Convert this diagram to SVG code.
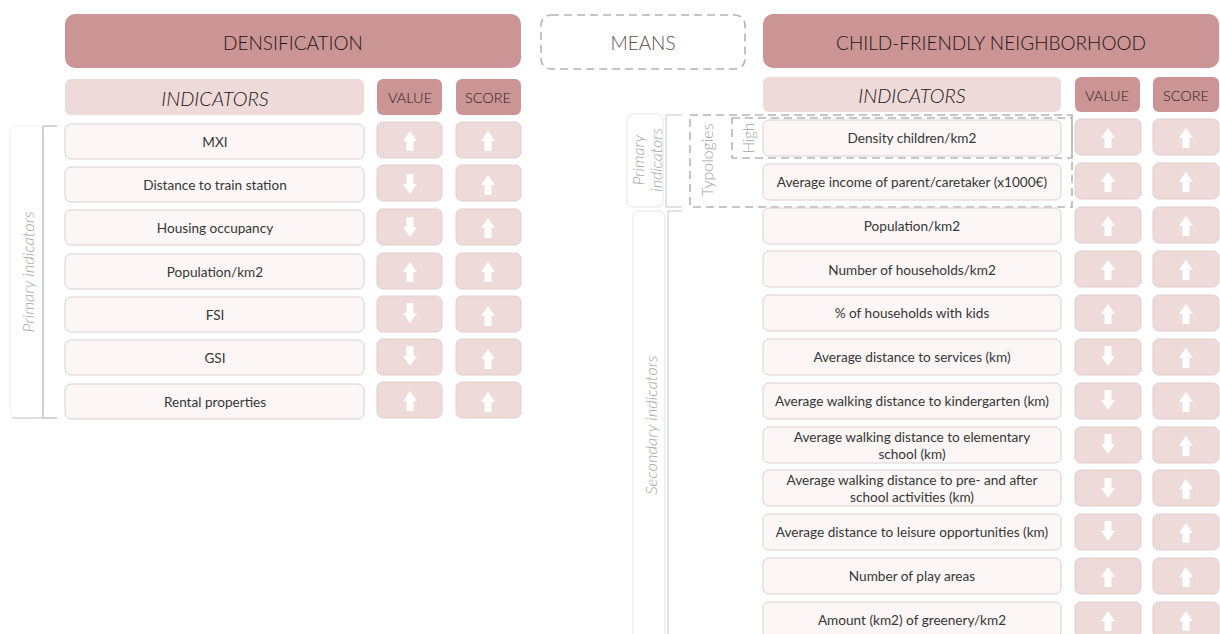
<svg xmlns="http://www.w3.org/2000/svg" xmlns:xlink="http://www.w3.org/1999/xlink" width="1220" height="634" viewBox="0 0 1220 634">
  <style>
    .hdr { fill: #cb9595; }
    .sub { fill: #efdada; }
    .row { fill: #fcf6f6; stroke: #d8d0d0; stroke-width: 1; }
    .cell { fill: #efdada; stroke: #e2cdcd; stroke-width: 1; }
    .arrow { fill: #ffffff; }
    .txt { font-family: Lato, "Open Sans", sans-serif; font-weight: 300; fill: #333333; text-anchor: middle; dominant-baseline: central; }
    .h1 { font-size: 19px; fill: #1e1616; }
    .h2 { font-size: 20px; font-style: italic; fill: #1e1616; }
    .h3 { font-size: 14.5px; fill: #2a2020; }
    .r { font-size: 13.6px; font-weight: 400; fill: #363636; }
    .side { font-family: Lato, "Open Sans", sans-serif; font-weight: 300; fill: #a3a3a3; text-anchor: middle; dominant-baseline: central; }
    .dash { fill: none; stroke: #b5b5b5; stroke-width: 1.6; stroke-dasharray: 8 5; }
    .brk { fill: none; stroke: #a8a8a8; stroke-width: 1; }
    .lbl { fill: #ffffff; stroke: #e3e3e3; stroke-width: 1; }
  </style>
  <defs>
    <path id="up" d="M0,-10 L7,0 L3.5,0 L3.5,10 L-3.5,10 L-3.5,0 L-7,0 Z"/>
    <path id="down" d="M0,10 L7,0 L3.5,0 L3.5,-10 L-3.5,-10 L-3.5,0 L-7,0 Z"/>
  </defs>

  <!-- ===== Densification table ===== -->
  <g id="densification-header">
    <rect class="hdr" x="65" y="14" width="456" height="54" rx="10"/>
    <text class="txt h1" x="293" y="42">DENSIFICATION</text>
  </g>
  <g id="densification-columns">
    <rect class="sub" x="65" y="79" width="299" height="36" rx="6"/>
    <text class="txt h2" x="215" y="98">INDICATORS</text>
    <rect class="hdr" x="377" y="79" width="65" height="36" rx="6"/>
    <text class="txt h3" x="410" y="97">VALUE</text>
    <rect class="hdr" x="456" y="79" width="65" height="36" rx="6"/>
    <text class="txt h3" x="488" y="97">SCORE</text>
  </g>

  <g id="densification-label">
    <rect class="lbl" x="10" y="126" width="33" height="292" rx="6" style="stroke:#f0f0f0"/>
    <path class="brk" d="M57,126 H43 V418 H57"/>
    <line x1="12" y1="418" x2="43" y2="418" stroke="#c8c8c8" stroke-width="1"/>
    <text class="side" font-size="16.5" font-style="italic" transform="translate(28,272) rotate(-90)">Primary indicators</text>
  </g>

  <g id="d-mxi">
    <rect class="row" x="65" y="124" width="299" height="35" rx="6"/>
    <text class="txt r" x="215" y="142">MXI</text>
    <rect class="cell" x="377" y="122" width="65" height="36" rx="6"/>
    <use href="#up" class="arrow" x="410" y="141"/>
    <rect class="cell" x="456" y="122" width="65" height="36" rx="6"/>
    <use href="#up" class="arrow" x="488" y="141"/>
  </g>
  <g id="d-train">
    <rect class="row" x="65" y="167" width="299" height="35" rx="6"/>
    <text class="txt r" x="215" y="185">Distance to train station</text>
    <rect class="cell" x="377" y="165" width="65" height="36" rx="6"/>
    <use href="#down" class="arrow" x="410" y="184"/>
    <rect class="cell" x="456" y="165" width="65" height="36" rx="6"/>
    <use href="#up" class="arrow" x="488" y="185"/>
  </g>
  <g id="d-housing">
    <rect class="row" x="65" y="210" width="299" height="35" rx="6"/>
    <text class="txt r" x="215" y="228">Housing occupancy</text>
    <rect class="cell" x="377" y="209" width="65" height="36" rx="6"/>
    <use href="#down" class="arrow" x="410" y="227"/>
    <rect class="cell" x="456" y="209" width="65" height="36" rx="6"/>
    <use href="#up" class="arrow" x="488" y="228"/>
  </g>
  <g id="d-population">
    <rect class="row" x="65" y="254" width="299" height="35" rx="6"/>
    <text class="txt r" x="215" y="272">Population/km2</text>
    <rect class="cell" x="377" y="253" width="65" height="36" rx="6"/>
    <use href="#up" class="arrow" x="410" y="272"/>
    <rect class="cell" x="456" y="253" width="65" height="36" rx="6"/>
    <use href="#up" class="arrow" x="488" y="272"/>
  </g>
  <g id="d-fsi">
    <rect class="row" x="65" y="297" width="299" height="35" rx="6"/>
    <text class="txt r" x="215" y="315">FSI</text>
    <rect class="cell" x="377" y="296" width="65" height="36" rx="6"/>
    <use href="#down" class="arrow" x="410" y="313"/>
    <rect class="cell" x="456" y="296" width="65" height="36" rx="6"/>
    <use href="#up" class="arrow" x="488" y="316"/>
  </g>
  <g id="d-gsi">
    <rect class="row" x="65" y="340" width="299" height="35" rx="6"/>
    <text class="txt r" x="215" y="358">GSI</text>
    <rect class="cell" x="377" y="339" width="65" height="36" rx="6"/>
    <use href="#down" class="arrow" x="410" y="356"/>
    <rect class="cell" x="456" y="339" width="65" height="36" rx="6"/>
    <use href="#up" class="arrow" x="488" y="359"/>
  </g>
  <g id="d-rental">
    <rect class="row" x="65" y="384" width="299" height="35" rx="6"/>
    <text class="txt r" x="215" y="402">Rental properties</text>
    <rect class="cell" x="377" y="382" width="65" height="36" rx="6"/>
    <use href="#up" class="arrow" x="410" y="401"/>
    <rect class="cell" x="456" y="382" width="65" height="36" rx="6"/>
    <use href="#up" class="arrow" x="488" y="402"/>
  </g>

  <!-- ===== Means ===== -->
  <g id="means">
    <rect class="dash" x="541" y="15" width="204" height="54" rx="10" stroke-width="1.3"/>
    <text class="txt" x="643" y="42" font-size="19" style="fill:#5e4d4d">MEANS</text>
  </g>

  <!-- ===== Child-friendly neighborhood table ===== -->
  <g id="cfn-header">
    <rect class="hdr" x="763" y="14" width="456" height="54" rx="10"/>
    <text class="txt h1" x="991" y="42">CHILD-FRIENDLY NEIGHBORHOOD</text>
  </g>
  <g id="cfn-columns">
    <rect class="sub" x="763" y="77" width="298" height="35" rx="6"/>
    <text class="txt h2" x="912" y="95">INDICATORS</text>
    <rect class="hdr" x="1075" y="77" width="65" height="35" rx="6"/>
    <text class="txt h3" x="1107" y="95">VALUE</text>
    <rect class="hdr" x="1153" y="77" width="66" height="35" rx="6"/>
    <text class="txt h3" x="1186" y="95">SCORE</text>
  </g>

  <g id="cfn-primary-label">
    <rect class="lbl" x="627" y="114" width="36" height="93" rx="6"/>
    <path class="brk" d="M682,115 H666 V207 H682" style="stroke:#c6c6c6"/>
    <text class="side" font-size="16" font-style="italic" transform="translate(637,160) rotate(-90)">Primary</text>
    <text class="side" font-size="16" font-style="italic" transform="translate(655,160) rotate(-90)">indicators</text>
  </g>
  <g id="cfn-secondary-label">
    <rect class="lbl" x="633" y="211" width="32" height="450" rx="6"/>
    <path class="brk" d="M682,211 H668 V640" style="stroke:#c6c6c6"/>
    <text class="side" font-size="16.5" font-style="italic" transform="translate(651,425) rotate(-90)">Secondary indicators</text>
  </g>
  <g id="typologies">
    <rect class="dash" x="690" y="115" width="382" height="92"/>
    <text class="side" font-size="16" transform="translate(706,160) rotate(-90)">Typologies</text>
  </g>
  <g id="typology-high">
    <rect class="dash" x="732" y="118" width="340" height="40"/>
    <text class="side" font-size="15" transform="translate(748,138) rotate(-90)">High</text>
  </g>

  <g id="c-density">
    <rect class="row" x="763" y="120" width="298" height="36" rx="6"/>
    <text class="txt r" x="912" y="138">Density children/km2</text>
    <rect class="cell" x="1075" y="119" width="66" height="36" rx="6"/>
    <use href="#up" class="arrow" x="1108" y="138"/>
    <rect class="cell" x="1153" y="119" width="66" height="36" rx="6"/>
    <use href="#up" class="arrow" x="1186" y="138"/>
  </g>
  <g id="c-income">
    <rect class="row" x="763" y="164" width="298" height="36" rx="6"/>
    <text class="txt r" x="912" y="182">Average income of parent/caretaker (x1000€)</text>
    <rect class="cell" x="1075" y="163" width="66" height="36" rx="6"/>
    <use href="#up" class="arrow" x="1108" y="182"/>
    <rect class="cell" x="1153" y="163" width="66" height="36" rx="6"/>
    <use href="#up" class="arrow" x="1186" y="182"/>
  </g>
  <g id="c-population">
    <rect class="row" x="763" y="208" width="298" height="36" rx="6"/>
    <text class="txt r" x="912" y="226">Population/km2</text>
    <rect class="cell" x="1075" y="207" width="66" height="36" rx="6"/>
    <use href="#up" class="arrow" x="1108" y="226"/>
    <rect class="cell" x="1153" y="207" width="66" height="36" rx="6"/>
    <use href="#up" class="arrow" x="1186" y="226"/>
  </g>
  <g id="c-households">
    <rect class="row" x="763" y="251" width="298" height="36" rx="6"/>
    <text class="txt r" x="912" y="270">Number of households/km2</text>
    <rect class="cell" x="1075" y="251" width="66" height="36" rx="6"/>
    <use href="#up" class="arrow" x="1108" y="270"/>
    <rect class="cell" x="1153" y="251" width="66" height="36" rx="6"/>
    <use href="#up" class="arrow" x="1186" y="270"/>
  </g>
  <g id="c-kids">
    <rect class="row" x="763" y="295" width="298" height="36" rx="6"/>
    <text class="txt r" x="912" y="313">% of households with kids</text>
    <rect class="cell" x="1075" y="295" width="66" height="36" rx="6"/>
    <use href="#up" class="arrow" x="1108" y="314"/>
    <rect class="cell" x="1153" y="295" width="66" height="36" rx="6"/>
    <use href="#up" class="arrow" x="1186" y="314"/>
  </g>
  <g id="c-services">
    <rect class="row" x="763" y="339" width="298" height="36" rx="6"/>
    <text class="txt r" x="912" y="357">Average distance to services (km)</text>
    <rect class="cell" x="1075" y="339" width="66" height="36" rx="6"/>
    <use href="#down" class="arrow" x="1108" y="356"/>
    <rect class="cell" x="1153" y="339" width="66" height="36" rx="6"/>
    <use href="#up" class="arrow" x="1186" y="358"/>
  </g>
  <g id="c-kindergarten">
    <rect class="row" x="763" y="383" width="298" height="36" rx="6"/>
    <text class="txt r" x="912" y="401">Average walking distance to kindergarten (km)</text>
    <rect class="cell" x="1075" y="383" width="66" height="36" rx="6"/>
    <use href="#down" class="arrow" x="1108" y="400"/>
    <rect class="cell" x="1153" y="383" width="66" height="36" rx="6"/>
    <use href="#up" class="arrow" x="1186" y="402"/>
  </g>
  <g id="c-elementary">
    <rect class="row" x="763" y="427" width="298" height="36" rx="6"/>
    <text class="txt r" x="912" y="437">Average walking distance to elementary</text>
    <text class="txt r" x="912" y="454">school (km)</text>
    <rect class="cell" x="1075" y="427" width="66" height="36" rx="6"/>
    <use href="#down" class="arrow" x="1108" y="444"/>
    <rect class="cell" x="1153" y="427" width="66" height="36" rx="6"/>
    <use href="#up" class="arrow" x="1186" y="446"/>
  </g>
  <g id="c-afterschool">
    <rect class="row" x="763" y="470" width="298" height="36" rx="6"/>
    <text class="txt r" x="912" y="480">Average walking distance to pre- and after</text>
    <text class="txt r" x="912" y="497">school activities (km)</text>
    <rect class="cell" x="1075" y="470" width="66" height="36" rx="6"/>
    <use href="#down" class="arrow" x="1108" y="488"/>
    <rect class="cell" x="1153" y="470" width="66" height="36" rx="6"/>
    <use href="#up" class="arrow" x="1186" y="489"/>
  </g>
  <g id="c-leisure">
    <rect class="row" x="763" y="514" width="298" height="36" rx="6"/>
    <text class="txt r" x="912" y="532">Average distance to leisure opportunities (km)</text>
    <rect class="cell" x="1075" y="514" width="66" height="36" rx="6"/>
    <use href="#down" class="arrow" x="1108" y="531"/>
    <rect class="cell" x="1153" y="514" width="66" height="36" rx="6"/>
    <use href="#up" class="arrow" x="1186" y="533"/>
  </g>
  <g id="c-play">
    <rect class="row" x="763" y="558" width="298" height="36" rx="6"/>
    <text class="txt r" x="912" y="576">Number of play areas</text>
    <rect class="cell" x="1075" y="558" width="66" height="36" rx="6"/>
    <use href="#up" class="arrow" x="1108" y="577"/>
    <rect class="cell" x="1153" y="558" width="66" height="36" rx="6"/>
    <use href="#up" class="arrow" x="1186" y="577"/>
  </g>
  <g id="c-greenery">
    <rect class="row" x="763" y="602" width="298" height="36" rx="6"/>
    <text class="txt r" x="912" y="620">Amount (km2) of greenery/km2</text>
    <rect class="cell" x="1075" y="602" width="66" height="36" rx="6"/>
    <use href="#up" class="arrow" x="1108" y="621"/>
    <rect class="cell" x="1153" y="602" width="66" height="36" rx="6"/>
    <use href="#up" class="arrow" x="1186" y="621"/>
  </g>

  <!-- no connectors between the nodes: the tables stand on their own -->
  <g id="connectors"/>
</svg>
